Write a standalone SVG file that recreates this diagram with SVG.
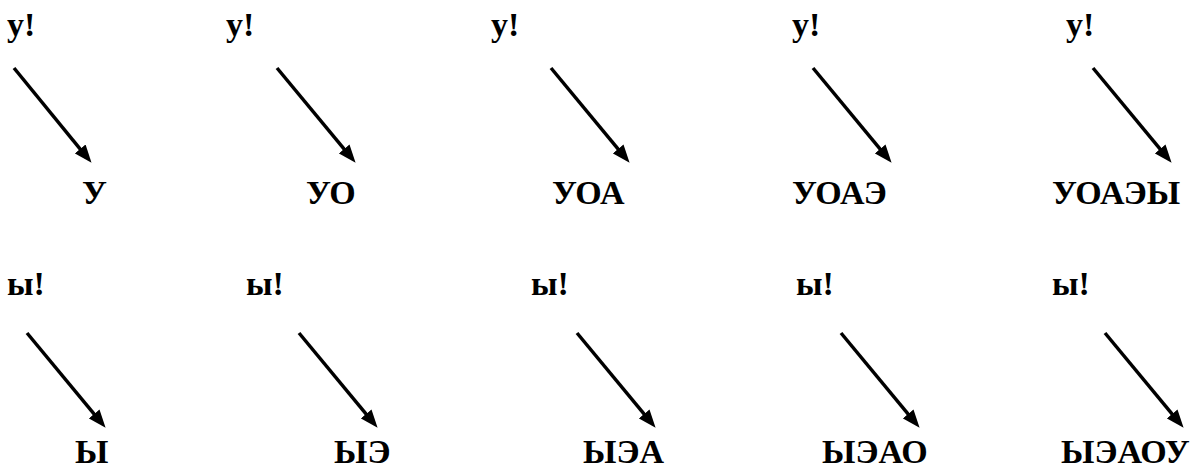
<svg xmlns="http://www.w3.org/2000/svg" width="1204" height="470" viewBox="0 0 1204 470">
<style>
text{font-family:"Liberation Serif","Times New Roman",serif;font-weight:bold;font-size:34px;fill:#000}
.c line{stroke:#000;stroke-width:3.5;marker-end:url(#ah)}
</style>
<defs>
<marker id="ah" markerUnits="userSpaceOnUse" markerWidth="18" markerHeight="14" viewBox="0 0 18 14" refX="5" refY="7" orient="auto">
<path d="M0,0 L18,7 L0,14 z" fill="#000"/>
</marker>
</defs>
<rect width="1204" height="470" fill="#fff"/>
<g id="n1a"><text x="7" y="36">у!</text></g>
<g id="n2a"><text x="226" y="36">у!</text></g>
<g id="n3a"><text x="491" y="36">у!</text></g>
<g id="n4a"><text x="792" y="36">у!</text></g>
<g id="n5a"><text x="1066" y="36">у!</text></g>
<g id="n1b"><text x="82" y="204">У</text></g>
<g id="n2b"><text x="306" y="204">УО</text></g>
<g id="n3b"><text x="552" y="204">УОА</text></g>
<g id="n4b"><text x="792" y="204">УОАЭ</text></g>
<g id="n5b"><text x="1052" y="204">УОАЭЫ</text></g>
<g id="m1a"><text x="7" y="295">ы!</text></g>
<g id="m2a"><text x="246" y="295">ы!</text></g>
<g id="m3a"><text x="531" y="295">ы!</text></g>
<g id="m4a"><text x="796" y="295">ы!</text></g>
<g id="m5a"><text x="1052" y="295">ы!</text></g>
<g id="m1b"><text x="75" y="463">Ы</text></g>
<g id="m2b"><text x="334" y="463">ЫЭ</text></g>
<g id="m3b"><text x="583" y="463">ЫЭА</text></g>
<g id="m4b"><text x="822" y="463">ЫЭАО</text></g>
<g id="m5b"><text x="1061" y="463">ЫЭАОУ</text></g>
<g id="connectors" class="c">
<line x1="14" y1="68" x2="83.3" y2="152.8"/>
<line x1="277" y1="68" x2="347.3" y2="152.8"/>
<line x1="551" y1="68" x2="621.3" y2="152.8"/>
<line x1="813" y1="68" x2="883.3" y2="152.8"/>
<line x1="1093" y1="68" x2="1163.3" y2="152.8"/>
<line x1="27" y1="333" x2="97.3" y2="417.8"/>
<line x1="299" y1="333" x2="369.3" y2="417.8"/>
<line x1="577" y1="333" x2="647.3" y2="417.8"/>
<line x1="841" y1="333" x2="911.3" y2="417.8"/>
<line x1="1105" y1="333" x2="1175.3" y2="417.8"/>
</g>
</svg>
